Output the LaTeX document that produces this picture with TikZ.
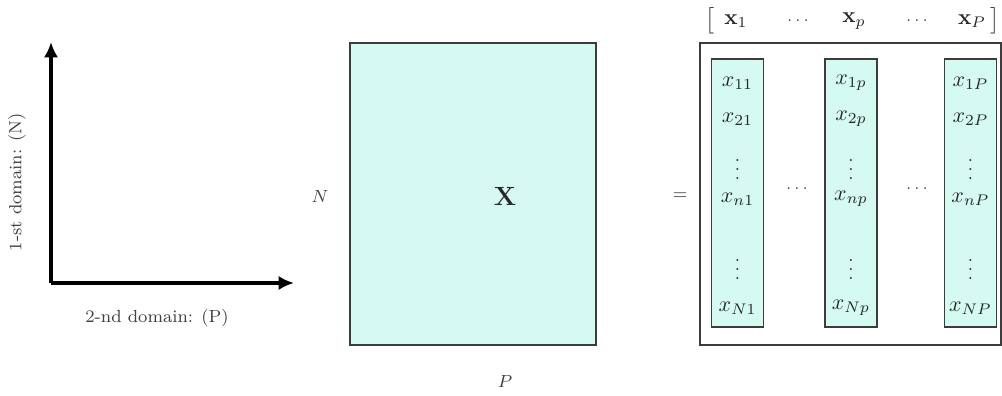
\documentclass[tikz,border=0pt]{standalone}
\usetikzlibrary{arrows.meta}
\definecolor{cellfill}{RGB}{212,250,242}
\definecolor{framegray}{RGB}{60,60,60}
\begin{document}
\begin{tikzpicture}[x=0.016cm, y=-0.016cm,
  lbl/.style={text=black!75, font=\footnotesize},
  entry/.style={text=black!85, inner sep=1pt},
  dots/.style={text=black!80, font=\scriptsize, inner sep=1pt},
  axis/.style={line width=1.4pt, -{Latex[length=7pt,width=6.5pt]}},
  cell/.style={fill=cellfill, draw=framegray, line width=0.6pt}]
  \useasboundingbox (0,0) rectangle (1002,396);

  % the two domains
  \coordinate (origin) at (51,283);
  \coordinate (ytip) at (51,42);
  \coordinate (xtip) at (294,283);
  \draw[axis] (origin) -- (ytip);
  \draw[axis] (origin) -- (xtip);
  \node[lbl, rotate=90] (ylab) at (17,182) {1-st domain: (N)};
  \node[lbl] (xlab) at (157,318) {2-nd domain: (P)};

  % data matrix X
  \filldraw[cell] (350,43) rectangle (596,345);
  \node[entry, font=\large] (bigX) at (505,196) {$\mathbf{X}$};
  \node[lbl] (rows) at (320,196) {$N$};
  \node[lbl] (cols) at (505,381) {$P$};
  \node[lbl] (eq) at (680,196) {=};

  % header row of column vectors
  \node[entry, inner sep=0pt] (lbr) at (710,21) {$\big[$};
  \node[entry] (h1) at (736,21) {$\mathbf{x}_1$};
  \node[dots] (hd1) at (798,21) {$\cdots$};
  \node[entry] (hp) at (854,21) {$\mathbf{x}_p$};
  \node[dots] (hd2) at (917,21) {$\cdots$};
  \node[entry] (hP) at (972,21) {$\mathbf{x}_P$};
  \node[entry, inner sep=0pt] (rbr) at (995,21) {$\big]$};

  % columns
  \draw[framegray, line width=0.6pt] (700,43) rectangle (1001,345);
  \foreach \cx/\k in {737.5/1, 851/p, 970.5/P} {
    \filldraw[cell] (\cx-26,59) rectangle (\cx+26,327);
    \node[entry] (a\k) at (\cx,83) {$x_{1\k}$};
    \node[entry] (b\k) at (\cx,119) {$x_{2\k}$};
    \node[entry, font=\footnotesize, inner sep=0pt] (c\k) at (\cx,163) {$\vdots$};
    \node[entry] (d\k) at (\cx,199) {$x_{n\k}$};
    \node[entry, font=\footnotesize, inner sep=0pt] (e\k) at (\cx,263) {$\vdots$};
    \node[entry] (f\k) at (\cx,308) {$x_{N\k}$};
  }
  \node[dots] (cd1) at (797,189) {$\cdots$};
  \node[dots] (cd2) at (917,189) {$\cdots$};

\end{tikzpicture}
\end{document}
